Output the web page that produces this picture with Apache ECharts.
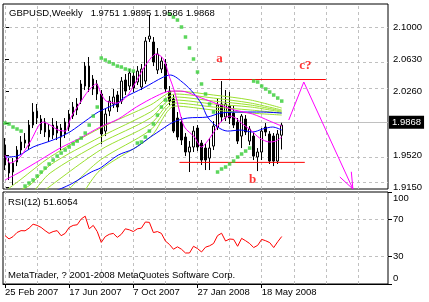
<!DOCTYPE html>
<html><head><meta charset="utf-8">
<script src="https://cdn.jsdelivr.net/npm/echarts/dist/echarts.min.js"></script>
<style>html,body{margin:0;padding:0;background:#fff}#c{width:429px;height:302px}</style>
</head><body><div id="c"></div>
<script>
const symbolName = 'GBPUSD,Weekly';
const rsiName = 'RSI(12)';
const copyright = 'MetaTrader, ? 2001-2008 MetaQuotes Software Corp.';
const dateTicks = ['25 Feb 2007','17 Jun 2007','7 Oct 2007','27 Jan 2008','18 May 2008'];
const priceTicks = [1.915,1.952,1.989,2.026,2.063,2.100];
const priceLabels = [1.915,1.952,2.026,2.063,2.100];
const rsiTicks = [0,30,70,100];
const rsiLevels = [30,70];

const open = [1.9637,1.9428,1.9324,1.9440,1.9579,1.9660,1.9625,1.9869,2.0031,1.9939,1.9904,1.9811,1.9753,1.9857,1.9834,1.9765,1.9846,1.9973,2.0043,2.0147,2.0321,2.0553,2.0403,2.0345,2.0229,1.9799,2.0031,2.0113,2.0217,2.0147,2.0391,2.0321,2.0437,2.0368,2.0310,2.0379,2.0867,2.0832,2.0507,2.0519,2.0577,2.0263,2.0171,1.9950,1.9904,1.9730,1.9556,1.9614,1.9834,1.9660,1.9602,1.9486,1.9625,1.9846,2.0113,1.9962,2.0089,2.0008,1.9904,1.9741,1.9939,1.9683,1.9741,1.9498,1.9556,1.9846,1.9765,1.9741,1.9451,1.9751];
const close = [1.9405,1.9312,1.9428,1.9579,1.9672,1.9695,1.9869,2.0020,1.9950,1.9811,1.9788,1.9730,1.9869,1.9776,1.9730,1.9904,1.9997,2.0078,2.0113,2.0345,2.0553,2.0310,2.0287,2.0229,1.9765,1.9997,2.0147,2.0194,2.0078,2.0379,2.0263,2.0472,2.0298,2.0495,2.0519,2.0843,2.0901,2.0600,2.0693,2.0611,2.0287,2.0147,1.9799,1.9730,1.9695,1.9556,1.9614,1.9799,1.9614,1.9463,1.9463,1.9602,1.9857,2.0101,1.9962,2.0113,1.9950,1.9869,1.9683,1.9973,1.9788,1.9823,1.9509,1.9556,1.9799,1.9788,1.9451,1.9451,1.9765,1.9868];
const low = [1.9347,1.9231,1.9173,1.9393,1.9521,1.9602,1.9579,1.9834,1.9881,1.9765,1.9730,1.9672,1.9707,1.9695,1.9579,1.9718,1.9799,1.9939,1.9985,2.0113,2.0275,2.0252,2.0217,2.0159,1.9649,1.9741,1.9973,2.0066,2.0020,2.0113,2.0217,2.0275,2.0252,2.0333,2.0275,2.0345,2.0832,2.0553,2.0461,2.0472,2.0252,2.0101,1.9776,1.9695,1.9637,1.9509,1.9324,1.9556,1.9567,1.9405,1.9347,1.9347,1.9579,1.9811,1.9904,1.9915,1.9881,1.9834,1.9649,1.9602,1.9753,1.9637,1.9463,1.9335,1.9463,1.9741,1.9417,1.9393,1.9417,1.9586];
const high = [1.9718,1.9486,1.9486,1.9625,1.9741,1.9776,1.9927,2.0124,2.0113,1.9985,1.9950,1.9881,1.9950,1.9915,1.9881,1.9950,2.0043,2.0136,2.0182,2.0391,2.0600,2.0658,2.0449,2.0391,2.0275,2.0066,2.0205,2.0287,2.0263,2.0426,2.0461,2.0519,2.0484,2.0553,2.0577,2.0890,2.1145,2.0890,2.0762,2.0658,2.0635,2.0321,2.0217,2.0020,1.9962,1.9776,1.9683,1.9857,1.9869,1.9695,1.9649,1.9718,1.9915,2.0182,2.0379,2.0275,2.0252,2.0101,1.9950,1.9997,1.9985,1.9857,1.9788,1.9602,1.9834,1.9892,1.9799,1.9776,1.9811,1.9895];

const sar = [1.9892,1.9881,1.9846,1.9823,1.9799,
 1.9161,1.9196,1.9231,1.9277,1.9324,1.9370,1.9417,1.9463,1.9509,1.9544,1.9579,1.9614,1.9649,1.9683,1.9718,1.9776,1.9869,1.9973,2.0078,
 2.0646,2.0623,2.0600,2.0577,2.0553,2.0542,2.0519,2.0507,2.0495,
 1.9660,1.9672,1.9730,1.9799,1.9881,1.9985,2.0078,2.0159,
 2.1157,2.1122,2.1087,2.1006,2.0890,2.0762,2.0635,2.0484,2.0345,2.0229,2.0113,2.0020,
 1.9324,1.9359,1.9382,1.9417,1.9451,1.9498,1.9533,1.9567,1.9602,
 2.0379,2.0368,2.0321,2.0287,2.0252,2.0217,2.0182,2.0147];

const rsi = [52.6,49,51.5,56,58,57.8,60.7,65,63.7,61.5,58,55,57,58,52.5,55,61.5,63.7,64.4,70.7,73.7,60,63.7,57,45.2,51.5,54,55,50.7,54,60,58.9,57,60,60.7,67.4,67,55.9,57,55,46.7,43,37.8,40.4,37.8,33.7,33.7,41,38.5,34.8,40,41.5,44,52.6,55.2,46.7,48.9,48.5,41,49.6,47,44,39.6,42,48.5,47,45,39.6,45.9,51.6054];

// moving averages read at [bar, price]
const maFast = [[0,1.9521],[1.25,1.9428],[3.75,1.9498],[6.25,1.9672],[9.5,1.9904],[11.25,1.9869],[13.25,1.9811],[15,1.9799],[16.5,1.9962],[19,2.0147],[20.75,2.0263],[22.75,2.0345],[24,2.0229],[25.25,2.0147],[27.75,2.0124],[30.25,2.0194],[32.75,2.0379],[35.25,2.0577],[37.75,2.0693],[39.5,2.0635],[41,2.0426],[42.25,2.0263],[43.5,2.0031],[44.75,1.9846],[47.25,1.9730],[49,1.9614],[50.5,1.9683],[52.25,1.9799],[54,1.9915],[56,1.9973],[57.5,1.9950],[59.25,1.9881],[61.25,1.9811],[63.5,1.9718],[66,1.9672],[67.5,1.9683],[69,1.9730]];
const maSlowMagenta = [[0,1.9231],[3.75,1.9324],[8.75,1.9463],[13.75,1.9602],[18.75,1.9718],[23.75,1.9846],[28.25,1.9939],[32.75,2.0078],[37.75,2.0205],[41.25,2.0263],[43.75,2.0263],[49,2.0182],[53,2.0113],[57.25,2.0043],[61.75,1.9997],[66,1.9915],[69,1.9857]];
const maBlueMid = [[0,1.9498],[3,1.9509],[7,1.9614],[11.25,1.9683],[13.75,1.9730],[16.5,1.9799],[20,1.9915],[23.25,2.0020],[26.5,2.0089],[28.25,2.0124],[29.5,2.0182],[34.5,2.0298],[39.5,2.0426],[41.25,2.0449],[44.5,2.0356],[47,2.0240],[49,2.0113],[50.5,1.9962],[53,1.9846],[55.5,1.9799],[58.75,1.9811],[61.75,1.9788],[64.25,1.9823],[66.75,1.9846],[69,1.9811]];
const maBlueSlow = [[12.5,1.9103],[16.5,1.9185],[21.5,1.9324],[23.75,1.9370],[28.25,1.9521],[32,1.9591],[36.25,1.9730],[37.75,1.9776],[42,1.9904],[45.5,1.9950],[50.5,1.9962],[53.75,2.0008],[59.5,2.0020],[63.75,2.0020],[69,2.0008]];
const maGreen1 = [[0.75,1.9127],[3.75,1.9231],[11.25,1.9498],[23.75,1.9834],[36.25,2.0101],[42.5,2.0263],[52,2.0217],[61.25,2.0159],[69,2.0066]];
const maGreen2 = [[3.75,1.9115],[6.25,1.9173],[11.25,1.9405],[23.75,1.9730],[36.25,2.0020],[42.5,2.0229],[52,2.0182],[61.25,2.0124],[69,2.0043]];
const maGreen3 = [[7.5,1.9115],[11.25,1.9312],[23.75,1.9660],[36.25,1.9950],[42.5,2.0194],[52,2.0147],[61.25,2.0101],[69,2.0031]];
const maGreen4 = [[10,1.9115],[23.75,1.9579],[36.25,1.9881],[42.5,2.0159],[52,2.0113],[61.25,2.0078],[69,2.0020]];
const maGreen5 = [[15.75,1.9115],[23.75,1.9463],[36.25,1.9811],[42.5,2.0124],[52,2.0078],[61.25,2.0043],[69,2.0008]];
const maGreen6 = [[20,1.9115],[23.75,1.9347],[36.25,1.9730],[42.5,2.0089],[52,2.0043],[61.25,2.0008],[69,1.9985]];

const resistance = [[51.5,2.0397],[80,2.0397]];
const support = [[43.5,1.9436],[74.75,1.9436]];
const projection = [[70.75,1.9927],[74.5,2.0368],[86.75,1.9127]];
const arrowHead = [[83.5,1.9266],[86.75,1.9127],[86.35,1.9327]];
const waveLabels = [{name:'a',value:[53.5,2.0642]},{name:'b',value:[61.75,1.9238]},{name:'c?',value:[74.9,2.0560]}];

const FONT = 'Liberation Sans';
const FS = 9.5;
const nSlots = 96;
const gridEvery = 8;
const labelEvery = 16;
const last = open.length - 1;
const cats = Array.from({length:nSlots}, (_, i) => String(i));
const vGrid = [];
for (let i = 0; i < nSlots; i += gridEvery) vGrid.push({xAxis: i});
const dash = {color:'#c0c0c0', type:[3,3], width:1};
const showDate = (i) => i % labelEvery === 0 && i <= last;

function lineSeries(data, color) {
  return {type:'line', xAxisIndex:1, yAxisIndex:0, data, symbol:'none', smooth:0.3,
    lineStyle:{color, width:1}, silent:true, z:4};
}

const chart = echarts.init(document.getElementById('c'), null, {renderer:'canvas'});
chart.setOption({
  animation:false,
  textStyle:{fontFamily:FONT},
  grid:[
    {left:3, top:4, width:385, height:185, show:true, borderColor:'#000', borderWidth:1, backgroundColor:'#fff'},
    {left:3, top:192, width:385, height:92, show:true, borderColor:'#000', borderWidth:1, backgroundColor:'#fff'}
  ],
  xAxis:[
    {type:'category', gridIndex:0, data:cats, show:false},
    {type:'value', gridIndex:0, min:-0.5, max:nSlots-0.5, show:false},
    {type:'category', gridIndex:1, data:cats,
      axisLine:{show:true, lineStyle:{color:'#000'}},
      axisTick:{show:true, alignWithLabel:true, interval:showDate, length:4, lineStyle:{color:'#000'}},
      axisLabel:{interval:showDate, formatter:(v, i) => dateTicks[i / labelEvery] || '', align:'left', margin:3.5, color:'#000', fontSize:FS, fontFamily:FONT},
      splitLine:{show:false}}
  ],
  yAxis:[
    {type:'value', gridIndex:0, position:'right', min:1.9127, max:2.1273, scale:true,
      axisLine:{show:false},
      axisTick:{show:true, customValues:priceTicks, length:4, lineStyle:{color:'#000'}},
      axisLabel:{customValues:priceLabels, formatter:v => v.toFixed(4), color:'#000', fontSize:FS, fontFamily:FONT, margin:5},
      splitLine:{show:false}},
    {type:'value', gridIndex:1, position:'right', min:0, max:100,
      axisLine:{show:false},
      axisTick:{show:true, customValues:rsiTicks, length:4, lineStyle:{color:'#000'}},
      axisLabel:{customValues:rsiTicks, color:'#000', fontSize:FS, fontFamily:FONT, margin:5,
        formatter:v => v === 100 ? '{t|100}' : (v === 0 ? '{b|0}' : String(v)),
        rich:{t:{padding:[12,0,0,0], fontSize:FS, fontFamily:FONT, color:'#000'}, b:{padding:[0,0,12,0], fontSize:FS, fontFamily:FONT, color:'#000'}}},
      splitLine:{show:false}}
  ],
  graphic:[
    {type:'text', x:9, y:13, z:100, style:{text:`${symbolName}   ${open[last].toFixed(4)} ${high[last].toFixed(4)} ${low[last].toFixed(4)} ${close[last].toFixed(4)}`, fill:'#000', fontSize:FS, fontFamily:FONT, verticalAlign:'middle'}},
    {type:'text', x:8, y:202, z:100, style:{text:`${rsiName} ${rsi[last].toFixed(4)}`, fill:'#000', fontSize:FS, fontFamily:FONT, verticalAlign:'middle'}},
    {type:'text', x:8, y:275.5, z:100, style:{text:copyright, fill:'#000', fontSize:FS, fontFamily:FONT, verticalAlign:'middle'}}
  ],
  series:[
    {type:'candlestick', xAxisIndex:0, yAxisIndex:0, barWidth:2, z:3, silent:true,
      data: open.map((o, i) => [o, close[i], low[i], high[i]]),
      itemStyle:{color:'#fff', color0:'#000', borderColor:'#000', borderColor0:'#000', borderWidth:1},
      markLine:{silent:true, z:1, symbol:['none','none'], animation:false,
        lineStyle:{color:'#c0c0c0', type:'solid', width:1},
        label:{show:true, position:'end', distance:1, formatter:close[last].toFixed(4), backgroundColor:'#000', color:'#fff', padding:[2,3,1,3], fontSize:FS, fontFamily:FONT},
        data:[{yAxis:close[last]}]}},
    lineSeries(maGreen6,'#9be02f'),
    lineSeries(maGreen5,'#9be02f'),
    lineSeries(maGreen4,'#9be02f'),
    lineSeries(maGreen3,'#9be02f'),
    lineSeries(maGreen2,'#9be02f'),
    lineSeries(maGreen1,'#9be02f'),
    lineSeries(maBlueSlow,'#0000ff'),
    lineSeries(maBlueMid,'#0000ff'),
    lineSeries(maSlowMagenta,'#ff00ff'),
    lineSeries(maFast,'#ff00ff'),
    {type:'line', xAxisIndex:1, yAxisIndex:0, data:resistance, symbol:'none', lineStyle:{color:'#ff0000', width:1}, silent:true, z:4},
    {type:'line', xAxisIndex:1, yAxisIndex:0, data:support, symbol:'none', lineStyle:{color:'#ff0000', width:1}, silent:true, z:4},
    {type:'line', xAxisIndex:1, yAxisIndex:0, data:projection, symbol:'none', lineStyle:{color:'#ff00ff', width:1}, silent:true, z:4},
    {type:'line', xAxisIndex:1, yAxisIndex:0, data:arrowHead, symbol:'none', lineStyle:{color:'#ff00ff', width:1}, silent:true, z:4},
    {type:'scatter', xAxisIndex:1, yAxisIndex:0, data: sar.map((v, i) => [i, v]), symbol:'rect', symbolSize:3.5,
      itemStyle:{color:'#33cc33'}, silent:true, z:5,
      markLine:{silent:true, z:1, symbol:['none','none'], animation:false, label:{show:false}, lineStyle:dash,
        data:[...vGrid, ...priceTicks.map(v => ({yAxis:v}))]}},
    {type:'scatter', xAxisIndex:1, yAxisIndex:0, data:waveLabels, symbolSize:0, silent:true, z:6,
      label:{show:true, position:'inside', formatter:p => p.name, color:'#ff0000', fontFamily:'Liberation Serif', fontWeight:'bold', fontSize:13}},
    {type:'line', xAxisIndex:2, yAxisIndex:1, data:rsi, symbol:'none', lineStyle:{color:'#ff0000', width:1}, silent:true, z:4,
      markLine:{silent:true, z:1, symbol:['none','none'], animation:false, label:{show:false}, lineStyle:dash,
        data:[...vGrid, ...rsiLevels.map(v => ({yAxis:v}))]}}
  ]
});
</script></body></html>
